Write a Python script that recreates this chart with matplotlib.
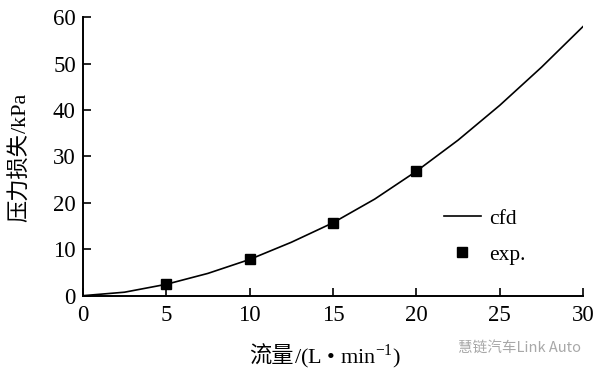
import matplotlib
matplotlib.use("Agg")
import matplotlib.pyplot as plt
from matplotlib.transforms import IdentityTransform

plt.rcParams["font.family"] = ["Liberation Serif", "DejaVu Sans"]
plt.rcParams["mathtext.fontset"] = "stix"

SERIF = ["Liberation Serif", "DejaVu Sans"]
CJK = ["Noto Sans CJK SC", "DejaVu Sans"]

# cfd curve
flow_cfd = [0, 2.5, 5, 7.5, 10, 12.5, 15, 17.5, 20, 22.5, 25, 27.5, 30]
loss_cfd = [0, 0.75, 2.45, 4.8, 7.8, 11.5, 15.7, 20.8, 26.8, 33.5, 41.0, 49.2, 58.0]

# experiment points
flow_exp = [5, 10, 15, 20]
loss_exp = [2.45, 7.8, 15.6, 26.8]

x_ticks = [0, 5, 10, 15, 20, 25, 30]
y_ticks = [0, 10, 20, 30, 40, 50, 60]

ylabel_parts = [("压力损失", CJK), ("/kPa", SERIF)]
xlabel_parts = [("流量", CJK), (r"/(L • min$^{\mathregular{-1}}$)", SERIF)]


def put_parts(fig, center, other, parts, rotation=0, size=15):
    """Write a label made of pieces in different fonts, centred on `center`
    (pixels along the text direction), baseline at `other` (pixels)."""
    renderer = fig.canvas.get_renderer()
    texts, lengths = [], []
    for s, fam in parts:
        t = fig.text(0, 0, s, family=fam, fontsize=size, rotation=rotation,
                     rotation_mode="anchor", ha="left", va="baseline",
                     transform=IdentityTransform())
        bb = t.get_window_extent(renderer)
        texts.append(t)
        lengths.append(bb.height if rotation == 90 else bb.width)
    pos = center - sum(lengths) / 2
    for t, ln in zip(texts, lengths):
        t.set_position((other, pos) if rotation == 90 else (pos, other))
        pos += ln


fig = plt.figure(figsize=(6, 3.75), dpi=100)
ax = fig.add_axes([0.138, 0.2115, 0.834, 0.743])

ax.plot(flow_cfd, loss_cfd, color="black", lw=1.2, label="cfd", zorder=3)
ax.plot(flow_exp, loss_exp, ls="none", marker="s", ms=7.5, color="black",
        label="exp.", zorder=4)

ax.set_xlim(0, 30)
ax.set_ylim(0, 60)
ax.set_xticks(x_ticks)
ax.set_yticks(y_ticks)
ax.spines["top"].set_visible(False)
ax.spines["right"].set_visible(False)
for s in ["left", "bottom"]:
    ax.spines[s].set_linewidth(1.4)
ax.tick_params(direction="in", length=6, width=1.2, labelsize=16.5)
ax.tick_params(axis="x", pad=7)
ax.tick_params(axis="y", pad=5)

ax.legend(loc="center left", bbox_to_anchor=(0.722, 0.212), frameon=False,
          fontsize=15.5, handlelength=1.7, handletextpad=0.4, labelspacing=0.75,
          borderpad=0, borderaxespad=0)

# labels in pixels from bottom-left of the figure
put_parts(fig, 375 - 158, 26, ylabel_parts, rotation=90, size=16)
put_parts(fig, 325, 375 - 363, xlabel_parts, rotation=0, size=16)

fig.text(0.865, 0.072, "慧链汽车Link Auto", color="#a8a8a8", fontsize=10.5,
         family=CJK, ha="center", va="center")

fig.savefig("out.png", dpi=100)
